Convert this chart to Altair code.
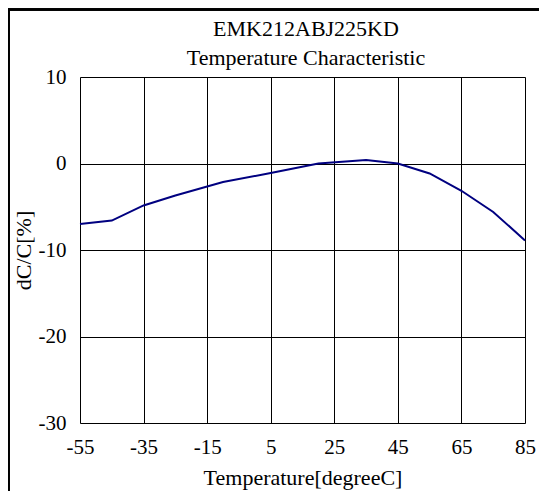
import altair as alt
import pandas as pd

temps = [-55, -45, -35, -25, -10, 5, 20, 35, 45, 55, 65, 75, 85]
dcc = [-7.0, -6.6, -4.85, -3.7, -2.15, -1.1, 0.0, 0.4, 0.0, -1.15, -3.15, -5.6, -8.9]
x_ticks = [-55, -35, -15, 5, 25, 45, 65, 85]
y_ticks = [-30, -20, -10, 0, 10]
title_lines = ["EMK212ABJ225KD", "Temperature Characteristic"]

df = pd.DataFrame({"t": temps, "d": dcc})
tdf = pd.DataFrame({"txt": title_lines, "row": [0, 1]})

FONT = "Liberation Serif"

line = alt.Chart(df).mark_line(color="#000080", strokeWidth=2).encode(
    x=alt.X("t:Q", scale=alt.Scale(domain=[-55, 85], nice=False, zero=False),
            axis=alt.Axis(values=x_ticks, title="Temperature[degreeC]", grid=True,
                          gridColor="black", gridWidth=1, domain=False, ticks=False,
                          labelExpr="'' + datum.value",
                          labelFont=FONT, labelFontSize=21, labelPadding=13, labelColor="black",
                          titleFont=FONT, titleFontSize=22, titleFontWeight="normal",
                          titleColor="black", titlePadding=10, labelFlush=False)),
    y=alt.Y("d:Q", scale=alt.Scale(domain=[-30, 10], nice=False, zero=False),
            axis=alt.Axis(values=y_ticks, title="dC/C[%]", grid=True,
                          gridColor="black", gridWidth=1, domain=False, ticks=False,
                          labelExpr="'' + datum.value",
                          labelFont=FONT, labelFontSize=21, labelPadding=14, labelColor="black",
                          titleFont=FONT, titleFontSize=22, titleFontWeight="normal",
                          titleColor="black", titlePadding=3)),
)

title1 = alt.Chart(tdf).transform_filter("datum.row == 0").mark_text(
    font=FONT, fontSize=22, color="black", baseline="middle", align="center"
).encode(text="txt:N", x=alt.value(226), y=alt.value(-48))

title2 = alt.Chart(tdf).transform_filter("datum.row == 1").mark_text(
    font=FONT, fontSize=22, color="black", baseline="middle", align="center"
).encode(text="txt:N", x=alt.value(226), y=alt.value(-19))

frame = alt.Chart(df).mark_rect(fillOpacity=0, stroke="black", strokeWidth=1.5).encode(
    x=alt.value(-71.5), x2=alt.value(900), y=alt.value(-67.5), y2=alt.value(900)
)

chart = alt.layer(line, title1, title2, frame).properties(
    width=445, height=346,
    padding={"left": 72, "top": 69, "right": 14, "bottom": 68},
    autosize="none",
).configure_view(fill="#FFFFCC", stroke="black", strokeWidth=2).configure(background="white")

chart.save("out.html", embed_options={"renderer": "svg", "actions": False})
